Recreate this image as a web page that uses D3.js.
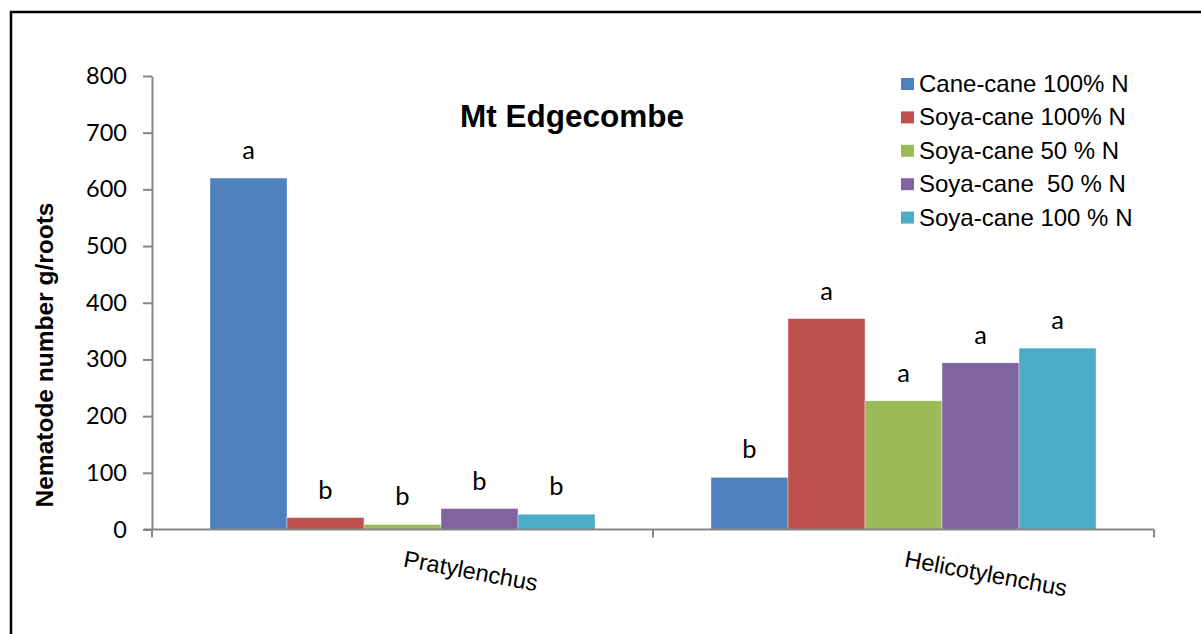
<!DOCTYPE html>
<html><head><meta charset="utf-8">
<script src="https://cdn.jsdelivr.net/npm/d3@7"></script>
<style>body{margin:0;background:#fff}svg{display:block}</style>
</head><body>
<svg id="c" width="1201" height="634"></svg>
<script>
const categories = ["Pratylenchus", "Helicotylenchus"];
const seriesNames = ["Cane-cane 100% N", "Soya-cane 100% N", "Soya-cane 50 % N", "Soya-cane  50 % N", "Soya-cane 100 % N"];
const colors = ["#4F81BD", "#C0504D", "#9BBB59", "#8064A2", "#4BACC6"];
const pratValues = [620, 21, 9, 37, 27];
const helicValues = [92, 372, 227, 294, 320];
const pratLetters = ["a", "b", "b", "b", "b"];
const helicLetters = ["b", "a", "a", "a", "a"];
const yTicks = [0, 100, 200, 300, 400, 500, 600, 700, 800];

(function () {
const values = [pratValues, helicValues];
const letters = [pratLetters, helicLetters];

const svg = d3.select("#c");
svg.append("rect").attr("x", 11).attr("y", 12).attr("width", 1300).attr("height", 700)
  .attr("fill", "none").attr("stroke", "#000").attr("stroke-width", 2.5);

const pLeft = 152, pRight = 1154, pTop = 76, pBottom = 529.5;
const x0 = d3.scaleBand().domain(categories).range([pLeft, pRight]).padding(0);
const x1 = d3.scaleBand().domain(d3.range(seriesNames.length)).range([0, x0.bandwidth()])
  .paddingInner(0).paddingOuter(0.753);
const y = d3.scaleLinear().domain([0, 800]).range([pBottom, pTop]);

// bars
categories.forEach((cat, ci) => {
  const g = svg.append("g").attr("transform", `translate(${x0(cat)},0)`);
  g.selectAll("rect").data(values[ci]).join("rect")
    .attr("x", (d, i) => x1(i)).attr("width", x1.bandwidth())
    .attr("y", d => y(d)).attr("height", d => y(0) - y(d))
    .attr("fill", (d, i) => colors[i])
    .attr("stroke", "#fff").attr("stroke-width", 0.6).attr("stroke-opacity", 0.6);
  g.selectAll("text").data(values[ci]).join("text")
    .attr("x", (d, i) => x1(i) + x1.bandwidth() / 2)
    .attr("y", d => y(d) - 19)
    .attr("text-anchor", "middle")
    .attr("font-family", "Lato, sans-serif").attr("font-size", 25.5)
    .attr("fill", "#000")
    .text((d, i) => letters[ci][i]);
});

// y axis
const yAxis = d3.axisLeft(y).tickValues(yTicks).tickSize(9).tickPadding(16).tickSizeOuter(0);
const ya = svg.append("g").attr("transform", `translate(${pLeft},0)`).call(yAxis);
ya.select(".domain").attr("stroke", "#868686").attr("stroke-width", 2);
ya.selectAll(".tick line").attr("stroke", "#868686").attr("stroke-width", 2);
ya.selectAll(".tick text").attr("font-family", "Lato, sans-serif").attr("font-size", 23.5).attr("fill", "#000");

// x axis
const xa = svg.append("g").attr("transform", `translate(0,${pBottom})`);
xa.append("line").attr("x1", pLeft - 8).attr("x2", pRight).attr("y1", 0).attr("y2", 0)
  .attr("stroke", "#868686").attr("stroke-width", 2);
const xTickPos = categories.map(c => x0(c)).concat([x0(categories[categories.length - 1]) + x0.bandwidth()]);
xa.selectAll("line.t").data(xTickPos).join("line").attr("class", "t")
  .attr("x1", d => d).attr("x2", d => d).attr("y1", 0).attr("y2", 8)
  .attr("stroke", "#868686").attr("stroke-width", 2);
xa.selectAll("text").data(categories).join("text")
  .attr("transform", d => `translate(${x0(d) + x0.bandwidth() / 2},${37}) rotate(10.5)`)
  .attr("font-family", "Liberation Sans, Arial, sans-serif").attr("font-size", 23.5)
  .attr("fill", "#000").text(d => d);

// title
svg.append("text").attr("x", 572).attr("y", 127).attr("text-anchor", "middle")
  .attr("font-family", "Liberation Sans, Arial, sans-serif").attr("font-weight", "bold")
  .attr("font-size", 31.5).text("Mt Edgecombe");

// y title
svg.append("text").attr("transform", "translate(53,355) rotate(-90)").attr("text-anchor", "middle")
  .attr("font-family", "Liberation Sans, Arial, sans-serif").attr("font-weight", "bold")
  .attr("font-size", 24.5).text("Nematode number g/roots");

// legend
const lg = svg.append("g").attr("transform", "translate(901,78)");
const items = lg.selectAll("g").data(seriesNames).join("g")
  .attr("transform", (d, i) => `translate(0,${i * 33.4})`);
items.append("rect").attr("width", 13).attr("height", 12).attr("fill", (d, i) => colors[i]);
items.append("text").attr("x", 18).attr("y", 14)
  .attr("font-family", "Liberation Sans, Arial, sans-serif").attr("font-size", 24)
  .attr("xml:space", "preserve").style("white-space", "pre").text(d => d);
})();
</script>
</body></html>
